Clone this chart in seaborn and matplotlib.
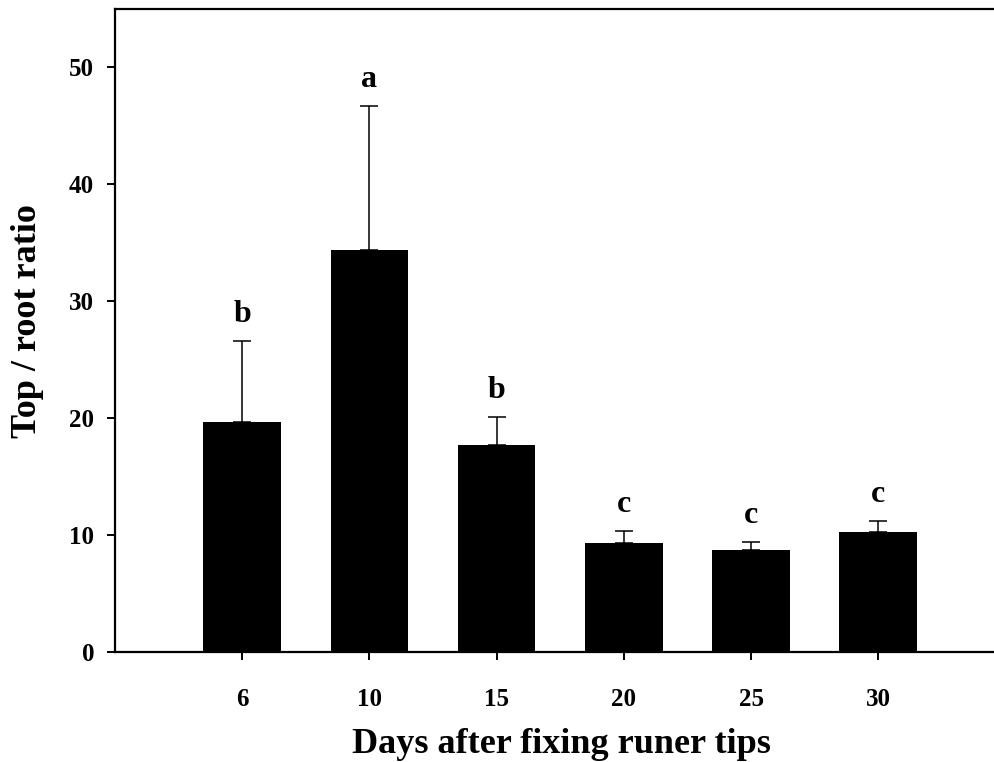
import matplotlib
matplotlib.use("Agg")
import matplotlib.pyplot as plt
import seaborn as sns
import pandas as pd

days = ["6", "10", "15", "20", "25", "30"]
ratio = [19.7, 34.4, 17.7, 9.3, 8.75, 10.25]
err_upper = [6.9, 12.3, 2.4, 1.05, 0.65, 0.95]
letters = ["b", "a", "b", "c", "c", "c"]

sns.set_theme(style="white")
plt.rcParams['font.family'] = ['Liberation Serif', 'DejaVu Serif']
plt.rcParams['font.weight'] = 'bold'
plt.rcParams['text.color'] = 'black'
plt.rcParams['axes.labelcolor'] = 'black'
plt.rcParams['xtick.color'] = 'black'
plt.rcParams['ytick.color'] = 'black'

df = pd.DataFrame({"day": days, "ratio": ratio})

fig = plt.figure(figsize=(9.94, 7.62), dpi=100)
ax = fig.add_axes([115 / 994, 1 - 652 / 762, 1 - 115 / 994, (652 - 9) / 762])

sns.barplot(data=df, x="day", y="ratio", order=days, color="black",
            saturation=1, width=0.61, ax=ax, errorbar=None)
for p in ax.patches:
    p.set_linewidth(0)

pos = list(range(len(days)))
ax.errorbar(pos, ratio, yerr=[[0] * len(days), err_upper], fmt="none",
            ecolor="black", elinewidth=1.1, capsize=6.5, capthick=1.1)

for i, (v, e, l) in enumerate(zip(ratio, err_upper, letters)):
    ax.text(i, v + e + 1.6, l, ha="center", va="baseline", color="black",
            fontsize=23, fontweight="bold")

ax.set_xlim(-1.0, 5.91)
ax.set_ylim(0, 55)
ax.set_yticks([0, 10, 20, 30, 40, 50])

for s in ["top", "left", "bottom"]:
    ax.spines[s].set_visible(True)
    ax.spines[s].set_color("black")
    ax.spines[s].set_linewidth(1.6)
ax.spines["right"].set_visible(False)

ax.tick_params(axis="y", direction="out", length=6, width=1.4,
               labelsize=18, pad=9, left=True, labelcolor="black")
ax.tick_params(axis="x", direction="out", length=6, width=1.4,
               labelsize=18, pad=20, bottom=True, labelcolor="black")
for t in ax.get_xticklabels() + ax.get_yticklabels():
    t.set_fontweight("bold")

ax.set_xlabel("Days after fixing runer tips", fontsize=26, fontweight="bold",
              labelpad=12, color="black")
ax.set_ylabel("Top / root ratio", fontsize=26, fontweight="bold",
              labelpad=18, color="black")
ax.xaxis.label.set_x(0.508)
ax.yaxis.label.set_y(0.514)
ax.grid(False)

fig.savefig("out.png", dpi=100)
